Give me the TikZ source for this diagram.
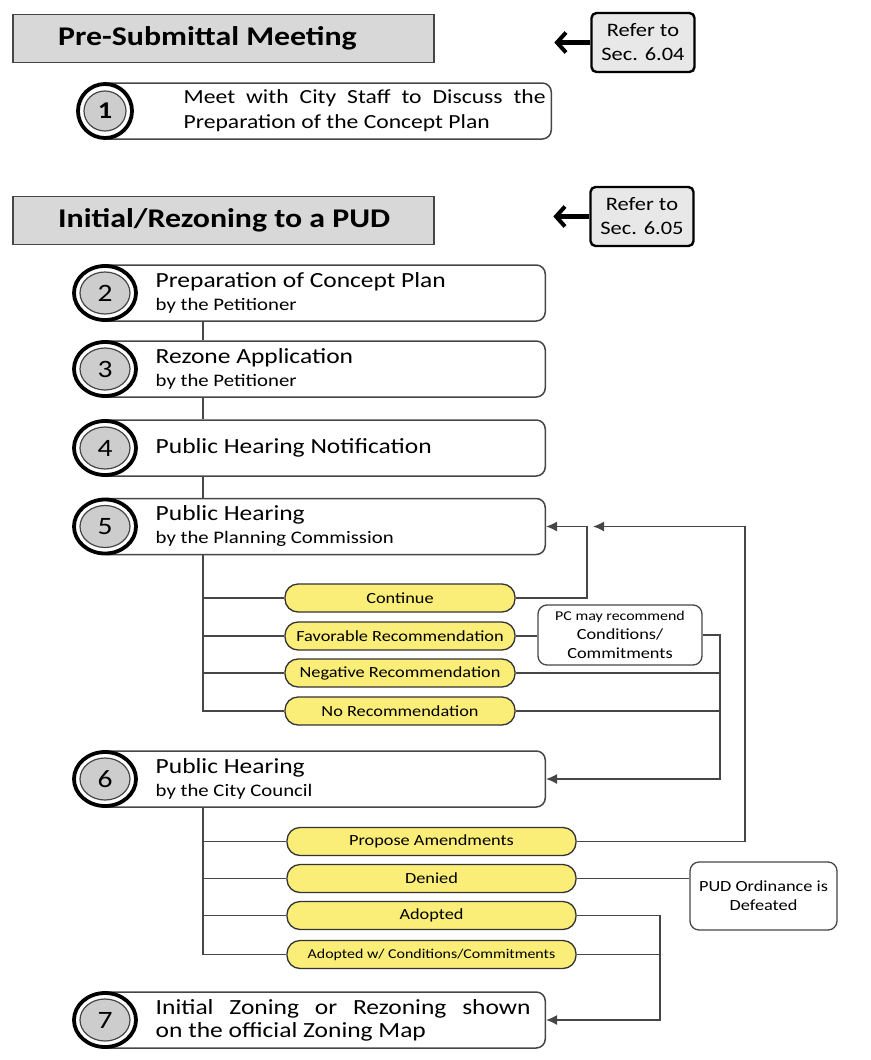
\documentclass[tikz,border=0pt]{standalone}
\usepackage{fontspec}
\setmainfont{Carlito}[FakeStretch=1.18]
\usetikzlibrary{positioning,shapes.geometric,arrows.meta}
\hyphenpenalty=10000
\definecolor{hdrgray}{RGB}{216,216,216}
\definecolor{refgray}{RGB}{232,232,232}
\definecolor{pillyellow}{RGB}{250,237,120}
\definecolor{edgegray}{RGB}{70,70,70}
\definecolor{badgegray}{RGB}{205,205,205}
\tikzset{
	header/.style={draw=edgegray, fill=hdrgray, line width=1.6pt, minimum width=421pt, minimum height=48pt, inner sep=0pt},
	hdrtext/.style={inner sep=0pt, font=\bfseries\fontsize{27}{27}\selectfont},
	refer/.style={draw=black, fill=refgray, line width=2.4pt, rounded corners=5pt, minimum width=103pt, minimum height=59pt, inner sep=0pt, align=center, font=\fontsize{19}{24}\selectfont},
	referarrow/.style={-{Straight Barb[length=9pt,width=20pt,line width=4pt]}, line width=5pt},
	stepbox/.style={draw=edgegray, fill=white, line width=1.5pt, rounded corners=9pt, minimum height=56pt, inner sep=0pt},
	steptext/.style={inner sep=0pt, align=left, font=\fontsize{21.6}{23}\selectfont},
	ring/.style={ellipse, draw=black, fill=white, line width=3.8pt, minimum width=62pt, minimum height=54pt, inner sep=0pt},
	badge/.style={ellipse, draw=edgegray, fill=badgegray, line width=1.2pt, minimum width=50pt, minimum height=42pt, inner sep=0pt, font=\fontsize{25}{25}\selectfont},
	pill/.style={draw=black!80, fill=pillyellow, line width=1.3pt, rounded corners=13pt, minimum height=28pt, inner sep=0pt, font=\fontsize{15.5}{15.5}\selectfont},
	note/.style={draw=edgegray, fill=white, line width=1.3pt, rounded corners=9pt, inner sep=0pt, align=center, font=\fontsize{15.5}{19}\selectfont},
	link/.style={draw=edgegray, line width=1.5pt},
	flow/.style={link, -{Latex[length=11pt,width=10pt]}}
}
\newcommand{\subline}{\fontsize{17.6}{22}\selectfont}
\begin{document}
\begin{tikzpicture}[x=1pt, y=-1pt]
		\useasboundingbox (0,0) rectangle (870,1060);
		\coordinate (spine) at (203,0);
		\node[header, anchor=north west] (h1) at (12,13.5) {};
		\node[hdrtext, right=46pt of h1.west] (h1t) {Pre-Submittal Meeting};
		\node[refer] (ref1) at (643,42.5) {Refer to\\Sec. 6.04};
		\coordinate[left=36pt of ref1.west] (ref1tip);
		\draw[referarrow] (ref1) -- (ref1tip);
		\node[stepbox, minimum width=452pt, anchor=east] (b1) at (552,111) {};
		\node[ring, minimum width=54pt, minimum height=54pt] (r1) at (105,111) {};
		\node[badge, minimum width=42pt, minimum height=40pt, font=\bfseries\fontsize{24}{24}\selectfont] (n1) at (r1) {1};
		\node[steptext, right=85pt of b1.west, text width=362pt, align=justify, font=\fontsize{20}{25}\selectfont] (t1) {Meet with City Staff to Discuss the\linebreak Preparation of the Concept Plan};
		\node[header, anchor=north west] (h2) at (12,195.5) {};
		\node[hdrtext, right=46pt of h2.west] (h2t) {Initial/Rezoning to a PUD};
		\node[refer] (ref2) at (642,216.5) {Refer to\\Sec. 6.05};
		\coordinate[left=36pt of ref2.west] (ref2tip);
		\draw[referarrow] (ref2) -- (ref2tip);
		\node[stepbox, minimum width=446pt, anchor=east] (b2) at (546,293) {};
		\node[stepbox, minimum width=446pt, anchor=east] (b3) at (546,369) {};
		\node[stepbox, minimum width=446pt, anchor=east] (b4) at (546,448) {};
		\node[stepbox, minimum width=446pt, anchor=east] (b5) at (546,526.5) {};
		\node[stepbox, minimum width=446pt, anchor=east] (b6) at (546,779) {};
		\node[stepbox, minimum width=446pt, anchor=east] (b7) at (546,1020) {};
		\draw[link] (b2.south -| spine) -- (b3.north -| spine);
		\draw[link] (b3.south -| spine) -- (b4.north -| spine);
		\draw[link] (b4.south -| spine) -- (b5.north -| spine);
		\node[ring] (r2) at (105,293) {};
		\node[badge] (n2) at (r2) {2};
		\node[ring] (r3) at (105,369) {};
		\node[badge] (n3) at (r3) {3};
		\node[ring] (r4) at (105,448) {};
		\node[badge] (n4) at (r4) {4};
		\node[ring] (r5) at (105,526.5) {};
		\node[badge] (n5) at (r5) {5};
		\node[ring] (r6) at (105,779) {};
		\node[badge] (n6) at (r6) {6};
		\node[ring] (r7) at (105,1020) {};
		\node[badge] (n7) at (r7) {7};
		\node[steptext, right=57pt of b2.west] (t2) {Preparation of Concept Plan\\{\subline by the Petitioner}};
		\node[steptext, right=57pt of b3.west] (t3) {Rezone Application\\{\subline by the Petitioner}};
		\node[steptext, right=57pt of b4.west] (t4) {Public Hearing Notification};
		\node[steptext, right=57pt of b5.west] (t5) {Public Hearing\\{\subline by the Planning Commission}};
		\node[steptext, right=57pt of b6.west] (t6) {Public Hearing\\{\subline by the City Council}};
		\node[steptext, right=57pt of b7.west, text width=375pt, align=justify] (t7) {Initial Zoning or Rezoning shown\linebreak on the official Zoning Map};
		\node[pill, minimum width=230pt] (cont) at (400,598) {Continue};
		\node[pill, minimum width=230pt] (fav) at (400,636) {Favorable Recommendation};
		\node[pill, minimum width=230pt] (neg) at (400,673) {Negative Recommendation};
		\node[pill, minimum width=230pt] (norec) at (400,711) {No Recommendation};
		\node[note, minimum width=164pt, minimum height=60pt] (pc) at (620,635) {{\fontsize{13.5}{16}\selectfont PC may recommend}\\Conditions/\\Commitments};
		\draw[link] (b5.south -| spine) |- (norec);
		\draw[link] (spine |- cont) -- (cont);
		\draw[link] (spine |- fav) -- (fav);
		\draw[link] (spine |- neg) -- (neg);
		\coordinate (contturn) at (587,0);
		\draw[flow] (cont) -| (contturn |- b5.east) -- (b5.east);
		\draw[link] (fav) -- (fav -| pc.west);
		\coordinate (pcturn) at (720,0);
		\draw[flow] (pc) -| (pcturn |- b6.east) -- (b6.east);
		\draw[link] (neg) -- (neg -| pcturn);
		\draw[link] (norec) -- (norec -| pcturn);
		\node[pill, minimum width=289pt] (prop) at (431.5,841.5) {Propose Amendments};
		\node[pill, minimum width=289pt] (den) at (431.5,878.5) {Denied};
		\node[pill, minimum width=289pt] (ado) at (431.5,915.5) {Adopted};
		\node[pill, minimum width=289pt, font=\fontsize{13.5}{13.5}\selectfont] (adw) at (431.5,954.5) {Adopted w/ Conditions/Commitments};
		\node[note, minimum width=147pt, minimum height=68pt] (pud) at (763.5,896) {PUD Ordinance is\\Defeated};
		\draw[link] (b6.south -| spine) |- (adw);
		\draw[link] (spine |- prop) -- (prop);
		\draw[link] (spine |- den) -- (den);
		\draw[link] (spine |- ado) -- (ado);
		\coordinate (amendturn) at (745,0);
		\coordinate (amendtip) at (593,0);
		\draw[flow] (prop) -| (amendturn |- b5.east) -- (amendtip |- b5.east);
		\draw[link] (den) -- (den -| pud.west);
		\coordinate (adoptturn) at (660,0);
		\draw[flow] (ado) -| (adoptturn |- b7.east) -- (b7.east);
		\draw[link] (adw) -- (adw -| adoptturn);
\end{tikzpicture}
\end{document}
